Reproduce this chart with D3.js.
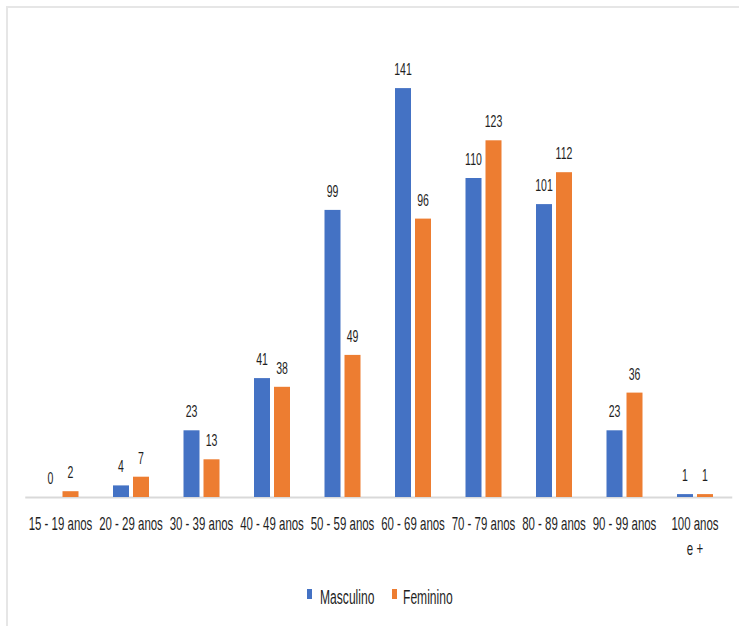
<!DOCTYPE html>
<html>
<head>
<meta charset="utf-8">
<script src="https://cdn.jsdelivr.net/npm/d3@7"></script>
<style>
  html, body { margin: 0; padding: 0; background: #fff; }
  svg { display: block; }
  text { font-family: "Liberation Sans", Arial, sans-serif; fill: #1f1f1f; }
</style>
</head>
<body>
<svg id="chart" width="739" height="626"></svg>
<script>
const categories = ["15 - 19 anos", "20 - 29 anos", "30 - 39 anos", "40 - 49 anos", "50 - 59 anos",
                    "60 - 69 anos", "70 - 79 anos", "80 - 89 anos", "90 - 99 anos", "100 anos e +"];
const seriesNames = ["Masculino", "Feminino"];
const masculino = [0, 4, 23, 41, 99, 141, 110, 101, 23, 1];
const feminino = [2, 7, 13, 38, 49, 96, 123, 112, 36, 1];
const colors = ["#4472C4", "#ED7D31"];

const seriesValues = [masculino, feminino];
const SX = 0.62; // horizontal squeeze of the text

const svg = d3.select("#chart");
svg.append("rect").attr("x", 7).attr("y", 7).attr("width", 740).attr("height", 630)
  .attr("fill", "#fff").attr("stroke", "#e6e6e6").attr("stroke-width", 2);

const baseY = 497;
const y = d3.scaleLinear().domain([0, 150]).range([baseY, baseY - 150 * 2.9]);
const x0 = d3.scaleBand().domain(categories).range([25.25, 730.25]).padding(0);
const half = 18;
const x1 = d3.scaleBand().domain(seriesNames)
  .range([x0.bandwidth() / 2 - half, x0.bandwidth() / 2 + half]).paddingInner(0.2);

const rows = categories.map((c, i) => ({ cat: c, vals: seriesNames.map((s, j) => ({ s, j, v: seriesValues[j][i] })) }));

// axis line
svg.append("line").attr("x1", x0.range()[0]).attr("x2", x0.range()[1] + 2)
  .attr("y1", baseY + 0.5).attr("y2", baseY + 0.5)
  .attr("stroke", "#d9d9d9").attr("stroke-width", 2);

const g = svg.selectAll("g.grp").data(rows).join("g").attr("class", "grp")
  .attr("transform", d => `translate(${x0(d.cat)},0)`);

g.selectAll("rect").data(d => d.vals).join("rect")
  .attr("x", d => x1(d.s)).attr("width", x1.bandwidth())
  .attr("y", d => y(d.v)).attr("height", d => y(0) - y(d.v))
  .attr("fill", d => colors[d.j]);

g.selectAll("text.val").data(d => d.vals).join("text").attr("class", "val")
  .attr("transform", d => `translate(${x1(d.s) + x1.bandwidth() / 2},${y(d.v) - 13}) scale(${SX},1)`)
  .attr("text-anchor", "middle").attr("font-size", 17)
  .text(d => d.v);

// category labels
const lab = svg.selectAll("text.cat").data(categories).join("text").attr("class", "cat")
  .attr("transform", d => `translate(${x0(d) + x0.bandwidth() / 2},530) scale(${SX},1)`)
  .attr("text-anchor", "middle").attr("font-size", 18.5);
lab.each(function(d) {
  const t = d3.select(this);
  const m = d.match(/^(100 anos) (e \+)$/);
  if (m) {
    t.append("tspan").attr("x", 0).attr("dy", 0).text(m[1]);
    t.append("tspan").attr("x", 0).attr("dy", 25).text(m[2]);
  } else {
    t.text(d);
  }
});

// legend
const legendItems = [
  { name: seriesNames[0], color: colors[0], mx: 307, tx: 320 },
  { name: seriesNames[1], color: colors[1], mx: 392, tx: 403 }
];
const lg = svg.append("g");
lg.selectAll("rect").data(legendItems).join("rect")
  .attr("x", d => d.mx).attr("y", 589).attr("width", 5).attr("height", 10)
  .attr("fill", d => d.color);
lg.selectAll("text").data(legendItems).join("text")
  .attr("transform", d => `translate(${d.tx},604) scale(${SX},1)`)
  .attr("font-size", 19.5).text(d => d.name);
</script>
</body>
</html>
